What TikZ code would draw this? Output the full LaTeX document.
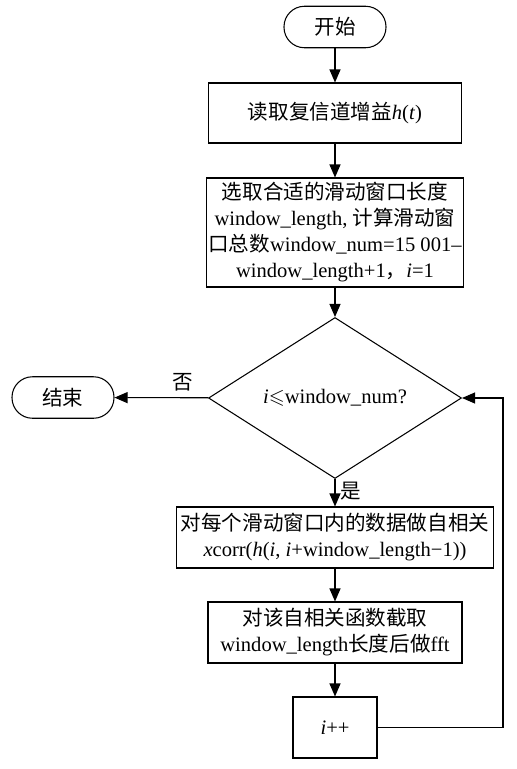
\documentclass[tikz,border=0pt]{standalone}
\usepackage{fontspec}
\usepackage{amssymb}
\setmainfont{Liberation Serif}
\newfontfamily\cjk{Noto Sans CJK SC}
\newcommand{\zh}[1]{{\cjk #1}}
\usetikzlibrary{shapes.geometric,arrows.meta}

\begin{document}
\begin{tikzpicture}[>={Triangle[length=2.6mm,width=2.2mm]},semithick,
    every node/.style={font=\fontsize{11.7}{14.8}\selectfont},
    term/.style={draw,rectangle,rounded corners=4.1mm,minimum width=2.04cm,minimum height=0.83cm},
    proc/.style={draw,rectangle,align=center,minimum width=5.06cm,minimum height=1.2cm,inner sep=1pt},
    cond/.style={draw,diamond,minimum width=5.06cm,minimum height=3cm,inner sep=0pt}]

\useasboundingbox (0,0) rectangle (10.32,-15.38);

\node[term] (start) at (6.7,-0.54) {\zh{开始}};
\node[proc] (read) at (6.7,-2.26) {\zh{读取复信道增益}\textit{h}(\textit{t})};
\node[proc,minimum height=2.18cm] (init) at (6.7,-4.65)
    {\zh{选取合适的滑动窗口长度}\\ window\_length, \zh{计算滑动窗}\\
     \zh{口总数}window\_num=15 001--\\ window\_length+1\zh{，}\textit{i}=1};
\node[cond] (test) at (6.7,-7.96) {\textit{i}$\leqslant$window\_num?};
\node[term] (stop) at (1.26,-7.95) {\zh{结束}};
\node[proc,minimum width=6.34cm,minimum height=1.22cm] (corr) at (6.7,-10.75)
    {\zh{对每个滑动窗口内的数据做自相关}\\
     \textit{x}corr(\textit{h}(\textit{i}, \textit{i}+window\_length−1))};
\node[proc,minimum width=5.08cm,minimum height=1.22cm] (fft) at (6.7,-12.65)
    {\zh{对该自相关函数截取}\\ window\_length\zh{长度后做}fft};
\node[proc,minimum width=1.68cm,minimum height=1.22cm] (inc) at (6.7,-14.55) {\textit{i}++};
\coordinate (back) at (10.06,-14.55);

\path[->] (start) edge (read)
          (read) edge (init)
          (init) edge (test)
          (test) edge node[above,pos=0.27] {\zh{否}} (stop)
          (test) edge node[right,inner sep=3pt,pos=0.45] {\zh{是}} (corr)
          (corr) edge (fft)
          (fft) edge (inc);
\draw[->] (inc) -- (back) |- (test);

\end{tikzpicture}
\end{document}
